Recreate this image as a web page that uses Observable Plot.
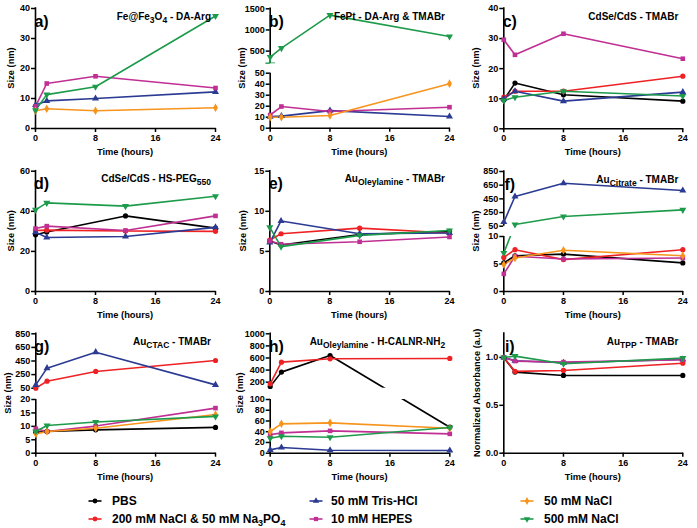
<!DOCTYPE html>
<html><head><meta charset="utf-8">
<script src="https://cdn.jsdelivr.net/npm/d3@7"></script>
<script src="https://cdn.jsdelivr.net/npm/@observablehq/plot@0.6"></script>
<style>
html,body{margin:0;padding:0;background:#fff;}
#root{position:relative;width:697px;height:528px;overflow:hidden;background:#fff;}
.panel{position:absolute;}
.panel svg{overflow:visible;}
</style></head><body><div id="root"></div>
<script>
// ---------- series ----------
const seriesNames = ["PBS", "200 mM NaCl & 50 mM Na3PO4", "50 mM Tris-HCl", "10 mM HEPES", "50 mM NaCl", "500 mM NaCl"];
const seriesColors = ["#000000", "#ee2124", "#2b3a92", "#c02f93", "#f7941d", "#1d9b4b"];
const xTicks = [0, 8, 16, 24];
const times8 = [0, 1.5, 8, 24];
const times12 = [0, 1.5, 12, 24];

// ---------- panel a: Fe@Fe3O4 - DA-Arg ----------
const aTris = [7.8, 9.2, 10.0, 12.2];
const aHEPES = [7.4, 15.0, 17.4, 13.5];
const aNaCl50 = [5.9, 6.6, 5.9, 6.9];
const aNaCl500 = [6.1, 11.3, 13.9, 37.5];
const aTicks = [0, 10, 20, 30, 40];

// ---------- panel b: FePt - DA-Arg & TMABr ----------
const bTris = [10.5, 11.0, 16.0, 10.6];
const bHEPES = [12.0, 19.7, 15.2, 19.1];
const bNaCl50 = [10.0, 10.0, 11.5, 40.5];
const bNaCl500 = [360, 571, 1350, 846];
const bNaCl500Low = [215, null, null, null];
const bTicks = [0, 10, 20, 30, 40, 50, 500, 1000, 1500];

// ---------- panel c: CdSe/CdS - TMABr ----------
const cPBS = [9.6, 15.2, 11.3, 9.2];
const cRed = [10.5, 12.5, 12.5, 17.5];
const cTris = [10.0, 12.5, 9.2, 12.2];
const cHEPES = [29.6, 24.6, 31.6, 23.3];
const cNaCl500 = [9.4, 10.5, 12.5, 10.9];
const cTicks = [0, 10, 20, 30, 40];

// ---------- panel d: CdSe/CdS - HS-PEG550 ----------
const dPBS = [28.3, 29.7, 37.7, 31.6];
const dRed = [30.4, 30.6, 30.2, 30.0];
const dTris = [29.6, 26.9, 27.4, 32.0];
const dHEPES = [31.4, 32.6, 30.4, 37.7];
const dNaCl500 = [40.7, 44.2, 42.6, 47.5];
const dTicks = [0, 20, 40, 60];

// ---------- panel e: Au(Oleylamine) - TMABr ----------
const ePBS = [6.3, 5.8, 7.1, 7.5];
const eRed = [6.4, 7.2, 7.9, 7.3];
const eTris = [6.1, 8.8, 7.2, 7.3];
const eHEPES = [6.3, 5.9, 6.2, 6.8];
const eNaCl500 = [8.0, 5.6, 7.0, 7.6];
const eTicks = [0, 5, 10, 15];

// ---------- panel f: Au(Citrate) - TMABr ----------
const fPBS = [5.2, 6.5, 6.8, 5.2];
const fRed = [6.2, 7.6, 5.8, 7.6];
const fTris = [110, 484, 679, 572];
const fHEPES = [3.2, 6.4, 5.9, 6.1];
const fNaCl50 = [4.9, 6.1, 7.5, 6.5];
const fNaCl500 = [7.0, 74, 191, 289];
const fTicks = [0, 5, 10, 50, 250, 450, 650, 850];

// ---------- panel g: Au(CTAC) - TMABr ----------
const gPBS = [7.8, 8.1, 8.7, 9.6];
const gRed = [50, 153, 296, 457];
const gTris = [99, 345, 580, 99];
const gHEPES = [9.1, 8.1, 10.1, 16.8];
const gNaCl50 = [7.2, 8.1, 9.3, 14.4];
const gNaCl500 = [8.1, 10.3, 11.6, 13.7];
const gTicks = [0, 5, 10, 15, 20, 50, 250, 450, 650, 850];

// ---------- panel h: Au(Oleylamine) - H-CALNR-NH2 ----------
const hPBS = [128, 366, 641, 48.4];
const hRed = [172, 531, 586, 592];
const hTris = [6.2, 10.6, 5.6, 5.0];
const hHEPES = [34.2, 37.9, 41.6, 36.0];
const hNaCl50 = [40.4, 54.7, 56.5, 46.6];
const hNaCl500 = [28.0, 31.7, 29.8, 47.8];
const hTicks = [0, 20, 40, 60, 80, 100, 200, 400, 600, 800, 1000];

// ---------- panel i: Au(TPP) - TMABr ----------
const iPBS = [1.0, 0.847, 0.812, 0.812];
const iRed = [1.0, 0.854, 0.864, 0.94];
const iTris = [1.0, 0.965, 0.945, 0.978];
const iHEPES = [1.0, 0.962, 0.951, 0.976];
const iNaCl500 = [1.0, 1.014, 0.934, 0.993];
const iTicks = [0, 0.5, 1.0];

// ---------- symbols ----------
const sqrt3 = Math.sqrt(3);
const triDown = {
  draw(ctx, size) {
    const y = -Math.sqrt(size / (sqrt3 * 3));
    ctx.moveTo(0, -y * 2);
    ctx.lineTo(-sqrt3 * y, y);
    ctx.lineTo(sqrt3 * y, y);
    ctx.closePath();
  }
};
const capSym = {
  draw(ctx, size) {
    const w = Math.sqrt(size) * 0.9;
    ctx.moveTo(-w, 0); ctx.lineTo(w, 0);
  }
};
const plotSymbols = ["circle", "circle", "triangle", "square", "diamond", triDown];
const d3Symbols = [d3.symbolCircle, d3.symbolCircle, d3.symbolTriangle, d3.symbolSquare, d3.symbolDiamond, triDown];

// ---------- layout ----------
const FONT = '"Liberation Sans", Arial, Helvetica, sans-serif';
const rows = [{top: 0, h: 158}, {top: 158, h: 160}, {top: 318, h: 162}];
const cols = [{left: 0, w: 232}, {left: 232, w: 232}, {left: 464, w: 233}];

const panels = [
  {letter: "a)", col: 0, row: 0, x: [35, 215], yDom: [0, 40], yPx: [128, 8], times: times8,
   series: [[2, aTris], [3, aHEPES], [4, aNaCl50], [5, aNaCl500]], ticks: aTicks,
   title: [["Fe@Fe", 0], ["3", 1], ["O", 0], ["4", 1], [" - DA-Arg", 0]], ylab: "Size (nm)", ylabOff: 24},
  {letter: "b)", col: 1, row: 0, x: [269.7, 449], yDom: [0, 50, 200, 1500], yPx: [127.7, 72.7, 63.3, 8.3], times: times8,
   series: [[2, bTris], [3, bHEPES], [4, bNaCl50], [5, bNaCl500]], ticks: bTicks, err: [5, bNaCl500, bNaCl500Low],
   title: [["FePt - DA-Arg & TMABr", 0]], ylab: "Size (nm)", ylabOff: 28},
  {letter: "c)", col: 2, row: 0, x: [503.3, 682.3], yDom: [0, 40], yPx: [128.3, 8], times: times8,
   series: [[0, cPBS], [1, cRed], [2, cTris], [3, cHEPES], [5, cNaCl500]], ticks: cTicks,
   title: [["CdSe/CdS - TMABr", 0]], ylab: "Size (nm)", ylabOff: 28},
  {letter: "d)", col: 0, row: 1, x: [35, 215], yDom: [0, 60], yPx: [291, 170.7], times: times12,
   series: [[0, dPBS], [1, dRed], [2, dTris], [3, dHEPES], [5, dNaCl500]], ticks: dTicks,
   title: [["CdSe/CdS - HS-PEG", 0], ["550", 1]], ylab: "Size (nm)", ylabOff: 24},
  {letter: "e)", col: 1, row: 1, x: [269.3, 449], yDom: [0, 15], yPx: [291, 170.7], times: times12,
   series: [[0, ePBS], [1, eRed], [2, eTris], [3, eHEPES], [5, eNaCl500]], ticks: eTicks,
   title: [["Au", 0], ["Oleylamine", 1], [" - TMABr", 0]], ylab: "Size (nm)", ylabOff: 27},
  {letter: "f)", col: 2, row: 1, x: [503.3, 682.3], yDom: [0, 10, 50, 850], yPx: [291, 236, 225.7, 171], times: times8,
   series: [[0, fPBS], [1, fRed], [2, fTris], [3, fHEPES], [4, fNaCl50], [5, fNaCl500]], ticks: fTicks,
   title: [["Au", 0], ["Citrate", 1], [" - TMABr", 0]], ylab: "Size (nm)", ylabOff: 28},
  {letter: "g)", col: 0, row: 2, x: [35.3, 215], yDom: [0, 20, 50, 850], yPx: [452.7, 399, 387.7, 333.3], times: times8,
   series: [[0, gPBS], [1, gRed], [2, gTris], [3, gHEPES], [4, gNaCl50], [5, gNaCl500]], ticks: gTicks,
   title: [["Au", 0], ["CTAC", 1], [" - TMABr", 0]], ylab: "Size (nm)", ylabOff: 28},
  {letter: "h)", col: 1, row: 2, x: [269.7, 449.3], yDom: [0, 100, 100.0001, 1000], yPx: [452.7, 399, 387.7, 333.3], times: times8,
   series: [[0, hPBS], [1, hRed], [2, hTris], [3, hHEPES], [4, hNaCl50], [5, hNaCl500]], ticks: hTicks,
   title: [["Au", 0], ["Oleylamine", 1], [" - H-CALNR-NH", 0], ["2", 1]], ylab: "Size (nm)", ylabOff: 30},
  {letter: "i)", col: 2, row: 2, x: [503.3, 682.3], yDom: [0, 1.25], yPx: [452.7, 333], times: times8,
   series: [[0, iPBS], [1, iRed], [2, iTris], [3, iHEPES], [5, iNaCl500]], ticks: iTicks, fmt: d3.format(".1f"),
   title: [["Au", 0], ["TPP", 1], [" - TMABr", 0]], ylab: "Normalized Absorbance (a.u)", ylabOff: 27}
];

const root = document.getElementById("root");

function addRich(sel, parts, mainSize, subSize, shift) {
  let down = false;
  parts.forEach(([txt, sub]) => {
    const ts = sel.append("tspan").text(txt);
    if (sub) { ts.attr("font-size", subSize); if (!down) { ts.attr("dy", shift); down = true; } }
    else { ts.attr("font-size", mainSize); if (down) { ts.attr("dy", -shift); down = false; } }
  });
}

function buildPanel(p) {
  const col = cols[p.col], row = rows[p.row];
  const fl = p.x[0] - col.left, fr = p.x[1] - col.left;
  const yPx = p.yPx.map(v => v - row.top);
  const fb = yPx[0], ft = yPx[yPx.length - 1];
  const n = p.yDom.length;
  const segs = n === 2 ? [[p.yDom[0], p.yDom[1]]] : [[p.yDom[0], p.yDom[1]], [p.yDom[2], p.yDom[3]]];

  const seriesData = p.series.map(([k, vals]) => ({k, pts: p.times.map((t, i) => ({t, v: vals[i]})).filter(d => d.v != null)}));

  const marks = [];
  marks.push(Plot.ruleX(segs, {x: () => 0, y1: d => d[0], y2: d => d[1], stroke: "black", strokeWidth: 1.6, strokeLinecap: "square"}));
  marks.push(Plot.ruleY([0], {x1: () => 0, x2: () => 24, stroke: "black", strokeWidth: 1.6, strokeLinecap: "square"}));
  marks.push(Plot.axisY({ticks: p.ticks, tickSize: 4, tickPadding: 1.5, tickFormat: p.fmt || (d => String(d)), label: null, fontSize: 9, fontWeight: "bold", strokeWidth: 1.5}));
  marks.push(Plot.axisX({ticks: xTicks, tickSize: 4, tickPadding: 2, tickFormat: d => String(d), label: null, fontSize: 9, fontWeight: "bold", strokeWidth: 1.5}));
  seriesData.forEach(s => {
    marks.push(Plot.line(s.pts, {x: "t", y: "v", stroke: seriesColors[s.k], strokeWidth: 1.6, strokeLinejoin: "round"}));
  });
  if (p.err) {
    const [k, vals, lows] = p.err;
    const ed = p.times.map((t, i) => ({t, v: vals[i], lo: lows[i]})).filter(d => d.lo != null);
    marks.push(Plot.ruleX(ed, {x: "t", y1: "v", y2: "lo", stroke: seriesColors[k], strokeWidth: 1.4}));
    marks.push(Plot.dot(ed, {x: "t", y: "lo", symbol: capSym, r: 3, stroke: seriesColors[k], fill: "none", strokeWidth: 1.4}));
  }
  if (n === 4) {
    marks.push(Plot.rect([[p.yDom[1], p.yDom[2]]], {x1: () => 0, x2: () => 24, y1: d => d[0], y2: d => d[1], fill: "white"}));
  }
  seriesData.forEach(s => {
    marks.push(Plot.dot(s.pts, {x: "t", y: "v", fill: seriesColors[s.k], stroke: "none", symbol: plotSymbols[s.k], r: 2.6}));
  });

  const svg = Plot.plot({
    width: col.w, height: row.h,
    marginLeft: fl, marginRight: col.w - fr, marginTop: ft, marginBottom: row.h - fb,
    x: {domain: [0, 24], range: [fl, fr]},
    y: {type: "linear", domain: p.yDom, range: yPx},
    style: {fontFamily: FONT, fontSize: "9px", fontWeight: "bold", color: "black", background: "transparent", overflow: "visible"},
    marks
  });

  const s = d3.select(svg);
  const g = s.append("g").attr("font-family", FONT).attr("font-weight", "bold").attr("fill", "black");
  g.append("text").attr("x", fl + 6.5).attr("y", ft + 18.5).attr("font-size", 16).text(p.letter);
  const tt = g.append("text").attr("x", fr - 4).attr("y", ft + 11.5).attr("text-anchor", "end");
  addRich(tt, p.title, 10, 8.5, 3);
  g.append("text").attr("transform", `translate(${fl - p.ylabOff},${(ft + fb) / 2}) rotate(-90)`)
    .attr("text-anchor", "middle").attr("dy", "0.35em").attr("font-size", 9.3).text(p.ylab);
  g.append("text").attr("x", (fl + fr) / 2).attr("y", fb + 27).attr("text-anchor", "middle").attr("font-size", 9.3).text("Time (hours)");

  const div = document.createElement("div");
  div.className = "panel";
  div.style.left = col.left + "px";
  div.style.top = row.top + "px";
  div.style.width = col.w + "px";
  div.style.height = row.h + "px";
  div.appendChild(svg);
  root.appendChild(div);
}

panels.forEach(buildPanel);

// ---------- legend ----------
const legendItems = [
  {k: 0, col: 0, row: 0, label: [["PBS", 0]]},
  {k: 1, col: 0, row: 1, label: [["200 mM NaCl & 50 mM Na", 0], ["3", 1], ["PO", 0], ["4", 1]]},
  {k: 2, col: 1, row: 0, label: [["50 mM Tris-HCl", 0]]},
  {k: 3, col: 1, row: 1, label: [["10 mM HEPES", 0]]},
  {k: 4, col: 2, row: 0, label: [["50 mM NaCl", 0]]},
  {k: 5, col: 2, row: 1, label: [["500 mM NaCl", 0]]}
];
const legMarkerX = [95, 316, 527];
const legTextX = [112, 331, 544];
const legRowY = [21, 39];
const leg = d3.select(root).append("svg")
  .attr("width", 697).attr("height", 48)
  .style("position", "absolute").style("left", "0px").style("top", "480px").style("overflow", "visible");
legendItems.forEach(it => {
  const mx = legMarkerX[it.col], my = legRowY[it.row];
  const c = seriesColors[it.k];
  leg.append("line").attr("x1", mx - 6.5).attr("x2", mx + 6.5).attr("y1", my).attr("y2", my)
    .attr("stroke", c).attr("stroke-width", 1.6);
  leg.append("path").attr("transform", `translate(${mx},${my})`)
    .attr("d", d3.symbol(d3Symbols[it.k], Math.PI * 2.4 * 2.4)()).attr("fill", c);
  const t = leg.append("text").attr("x", legTextX[it.col]).attr("y", my + 4.3)
    .attr("font-family", FONT).attr("font-weight", "bold").attr("fill", "black");
  addRich(t, it.label, 12, 9, 3);
});
</script>
</body></html>
